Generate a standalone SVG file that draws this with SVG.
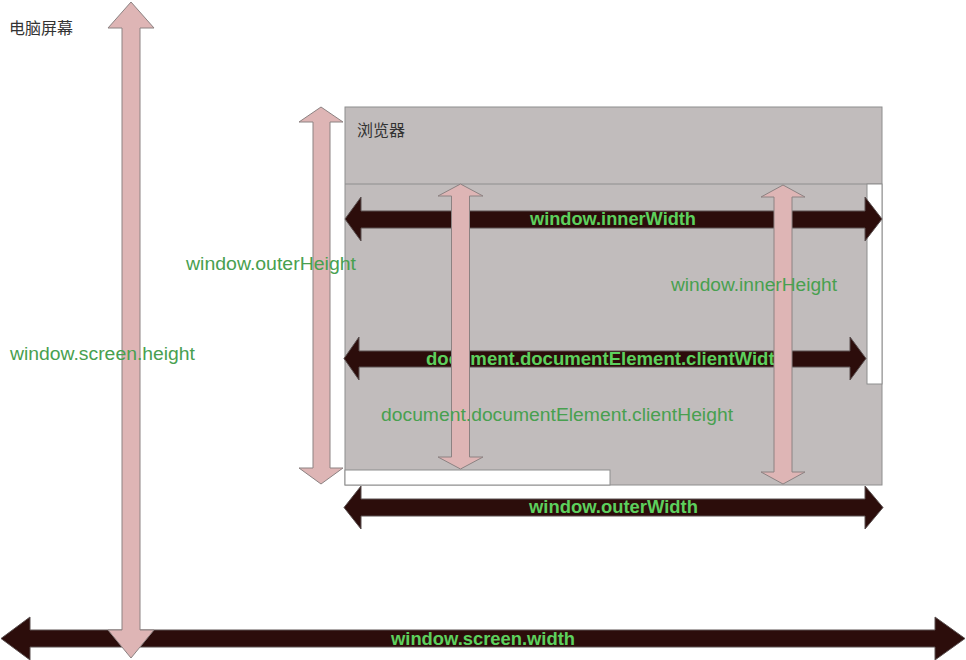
<svg xmlns="http://www.w3.org/2000/svg" width="966" height="660" viewBox="0 0 966 660">
<style>
.pink{fill:#deb5b5;stroke:#8c8282;stroke-width:1}
.dark{fill:#2c0d0b;stroke:#5a5050;stroke-width:1}
.lbl{font-family:"Liberation Sans",Arial,sans-serif;font-size:18px;fill:#48a04f}
.blbl{font-family:"Liberation Sans",Arial,sans-serif;font-size:18px;font-weight:bold;fill:#5dd05d}
.cn{font-family:"Liberation Sans","Noto Sans CJK SC",sans-serif;font-size:16px;fill:#333333}
.panel{fill:#c1bcbc;stroke:#8e8e8e;stroke-width:1}
.blank{fill:#ffffff;stroke:#8e8e8e;stroke-width:1}
</style>
<rect width="966" height="660" fill="#ffffff"/>
<g id="screen-label"><text class="cn" x="9" y="34">电脑屏幕</text></g>
<g id="screen-width">
<path class="dark" d="M1,638.5 L30,617 L30,630 L935,630 L935,617 L965,638.5 L935,660 L935,647 L30,647 L30,660 Z"/>
<text class="blbl" x="391" y="645" textLength="184" lengthAdjust="spacingAndGlyphs">window.screen.width</text>
</g>
<g id="screen-height">
<path class="pink" d="M131,2 L154,28 L140,28 L140,630 L154,630 L131,658 L108,630 L122,630 L122,28 L108,28 Z"/>
<text class="lbl" x="10" y="360" textLength="185" lengthAdjust="spacingAndGlyphs">window.screen.height</text>
</g>
<g id="browser">
<rect class="panel" x="345" y="107" width="537" height="378"/>
<line x1="345" y1="184" x2="882" y2="184" stroke="#8e8e8e" stroke-width="1"/>
<rect class="blank" x="867" y="184" width="15" height="200"/>
<rect class="blank" x="345" y="470" width="265" height="15"/>
<text class="cn" x="357" y="136">浏览器</text>
</g>
<g id="outer-height">
<path class="pink" d="M321,107 L343,122 L330,122 L330,468 L343,468 L321,484 L299,468 L313,468 L313,122 L299,122 Z"/>
<text class="lbl" x="186" y="270" textLength="170" lengthAdjust="spacingAndGlyphs">window.outerHeight</text>
</g>
<g id="inner-width">
<path class="dark" d="M345,219 L361,197 L361,211 L865,211 L865,197 L882,219 L865,241 L865,228 L361,228 L361,241 Z"/>
<text class="blbl" x="530" y="225" textLength="166" lengthAdjust="spacingAndGlyphs">window.innerWidth</text>
</g>
<g id="client-width">
<path class="dark" d="M344,358.5 L359,337 L359,351 L850,351 L850,337 L866,358.5 L850,380 L850,367 L359,367 L359,380 Z"/>
<text class="blbl" x="426" y="365" textLength="360" lengthAdjust="spacingAndGlyphs">document.documentElement.clientWidth</text>
</g>
<g id="outer-width">
<path class="dark" d="M344,507.5 L361,486 L361,499 L865,499 L865,486 L883,507.5 L865,529 L865,516 L361,516 L361,529 Z"/>
<text class="blbl" x="529" y="513" textLength="169" lengthAdjust="spacingAndGlyphs">window.outerWidth</text>
</g>
<g id="client-height">
<path class="pink" d="M460.5,184 L483,196 L469.5,196 L469.5,457 L483,457 L460.5,469 L438,457 L451.5,457 L451.5,196 L438,196 Z"/>
<text class="lbl" x="381" y="421" textLength="352" lengthAdjust="spacingAndGlyphs">document.documentElement.clientHeight</text>
</g>
<g id="inner-height">
<path class="pink" d="M783,185 L805,197 L792,197 L792,472 L805,472 L783,484 L761,472 L774,472 L774,197 L761,197 Z"/>
<text class="lbl" x="671" y="291" textLength="166" lengthAdjust="spacingAndGlyphs">window.innerHeight</text>
</g>
<g id="connectors"/>
</svg>
